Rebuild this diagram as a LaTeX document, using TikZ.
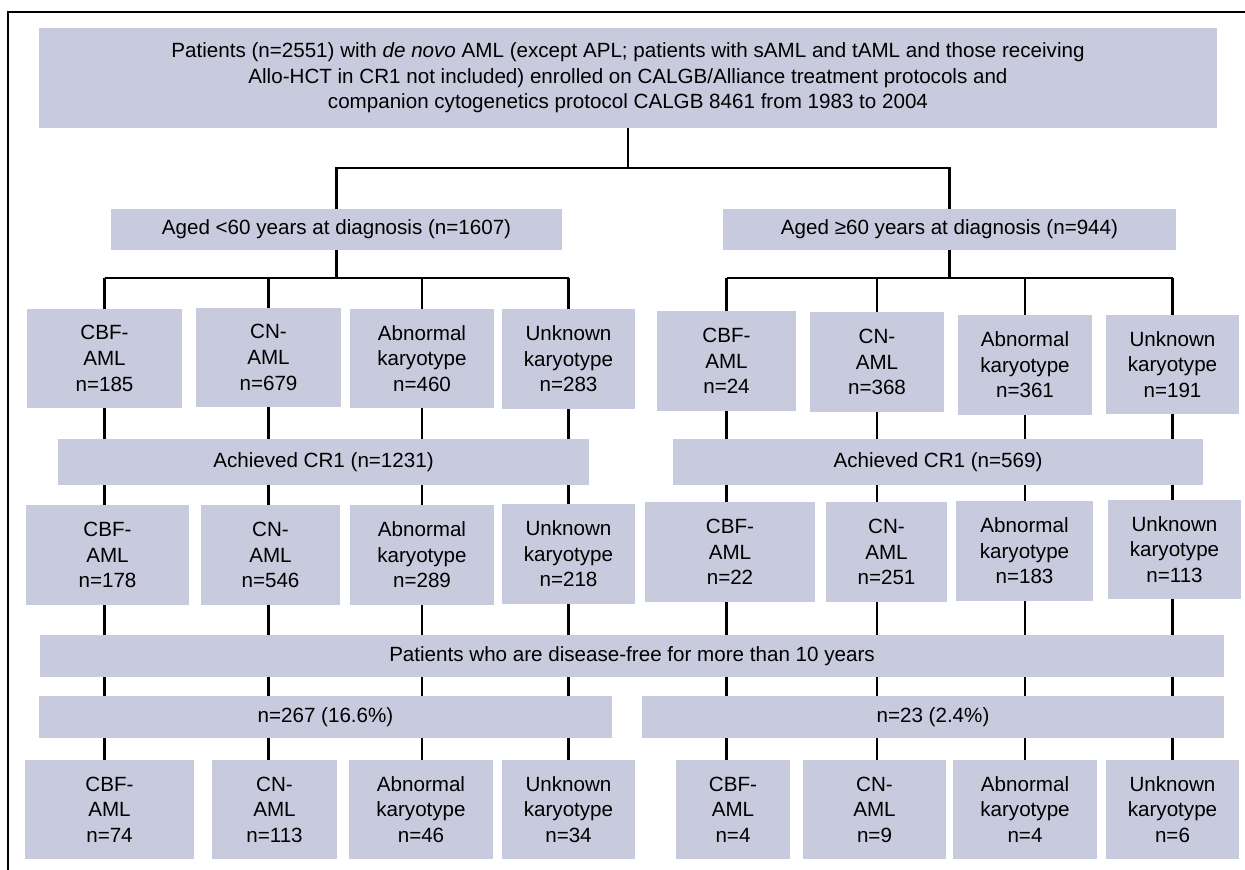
\documentclass[tikz,border=0pt]{standalone}
\usepackage{fontspec}
\setmainfont{Liberation Sans}
\usetikzlibrary{backgrounds}
\definecolor{boxgray}{RGB}{200,202,222}

\begin{document}
\begin{tikzpicture}[x=1pt,y=-1pt,
    cell/.style 2 args={fill=boxgray,inner sep=0pt,align=center,
      minimum width=#1pt,minimum height=#2pt,
      font=\fontsize{20.6}{25.6}\selectfont},
    link/.style={line width=2.2pt}]
    \useasboundingbox (0,0) rectangle (1245,870);

    \node[cell={1178}{100}] (top) at (628,78) {Patients (n=2551) with \textit{de novo} AML (except APL; patients with sAML and tAML and those receiving\\Allo-HCT in CR1 not included) enrolled on CALGB/Alliance treatment protocols and\\companion cytogenetics protocol CALGB 8461 from 1983 to 2004};

    \node[cell={451}{41}] (ageL) at (336.5,229.5) {Aged <60 years at diagnosis (n=1607)};
    \node[cell={453}{41}] (ageR) at (949.5,229.5) {Aged ≥60 years at diagnosis (n=944)};

    % all patients
    \node[cell={155}{99}] (lcbfA) at (104.5,358.5) {CBF-\\AML\\n=185};
    \node[cell={145}{99}] (lcnA) at (268.5,357.5) {CN-\\AML\\n=679};
    \node[cell={144}{99}] (labnA) at (422,358.5) {Abnormal\\karyotype\\n=460};
    \node[cell={133}{100}] (lunkA) at (568.5,359) {Unknown\\karyotype\\n=283};
    \node[cell={139}{100}] (rcbfA) at (726.5,361) {CBF-\\AML\\n=24};
    \node[cell={134}{100}] (rcnA) at (877,362) {CN-\\AML\\n=368};
    \node[cell={134}{100}] (rabnA) at (1025,365) {Abnormal\\karyotype\\n=361};
    \node[cell={133}{99}] (runkA) at (1172.5,364.5) {Unknown\\karyotype\\n=191};

    \node[cell={531}{46}] (crL) at (323.5,462) {Achieved CR1 (n=1231)};
    \node[cell={530}{46}] (crR) at (938,462) {Achieved CR1 (n=569)};

    % in CR1
    \node[cell={163}{100}] (lcbfB) at (107.5,555) {CBF-\\AML\\n=178};
    \node[cell={139}{100}] (lcnB) at (270.5,555) {CN-\\AML\\n=546};
    \node[cell={144}{100}] (labnB) at (422,555) {Abnormal\\karyotype\\n=289};
    \node[cell={133}{100}] (lunkB) at (568.5,554) {Unknown\\karyotype\\n=218};
    \node[cell={170}{100}] (rcbfB) at (730,552) {CBF-\\AML\\n=22};
    \node[cell={121}{100}] (rcnB) at (886.5,552) {CN-\\AML\\n=251};
    \node[cell={137}{100}] (rabnB) at (1024.5,551) {Abnormal\\karyotype\\n=183};
    \node[cell={133}{99}] (runkB) at (1174.5,549.5) {Unknown\\karyotype\\n=113};

    \node[cell={1184}{42}] (free) at (632,656) {Patients who are disease-free for more than 10 years};
    \node[cell={573}{42}] (freeL) at (325.5,717) {n=267 (16.6\%)};
    \node[cell={582}{42}] (freeR) at (933,717) {n=23 (2.4\%)};

    % disease-free
    \node[cell={169}{99}] (lcbfC) at (109.5,809.5) {CBF-\\AML\\n=74};
    \node[cell={125}{99}] (lcnC) at (274.5,809.5) {CN-\\AML\\n=113};
    \node[cell={144}{99}] (labnC) at (421,809.5) {Abnormal\\karyotype\\n=46};
    \node[cell={133}{99}] (lunkC) at (568.5,809.5) {Unknown\\karyotype\\n=34};
    \node[cell={114}{99}] (rcbfC) at (733,809.5) {CBF-\\AML\\n=4};
    \node[cell={143}{99}] (rcnC) at (874.5,809.5) {CN-\\AML\\n=9};
    \node[cell={144}{99}] (rabnC) at (1025,809.5) {Abnormal\\karyotype\\n=4};
    \node[cell={133}{99}] (runkC) at (1172.5,809.5) {Unknown\\karyotype\\n=6};

    \coordinate (tbus) at (628,168);
    \coordinate (lbus) at (336.5,278);
    \coordinate (rbus) at (949.5,278);

    \begin{scope}[on background layer]
      \draw[line width=2.5pt] (8,870) -- (8,12) -- (1245,12);
      \draw[link] (top) -- (tbus);
      \draw[link] (ageL) |- (tbus) -| (ageR);
      \draw[link] (ageL) -- (lbus);
      \draw[link] (ageR) -- (rbus);
      \draw[link] (lcbfA.north |- lbus) -- (lunkA.north |- lbus);
      \draw[link] (rcbfA.north |- rbus) -- (runkA.north |- rbus);
      \foreach \c in {lcbf,lcn,labn,lunk,rcbf,rcn,rabn,runk}
        \draw[link] (\c A.north |- lbus) -- (\c A.north |- \c C.north);
    \end{scope}
  \end{tikzpicture}
\end{document}
